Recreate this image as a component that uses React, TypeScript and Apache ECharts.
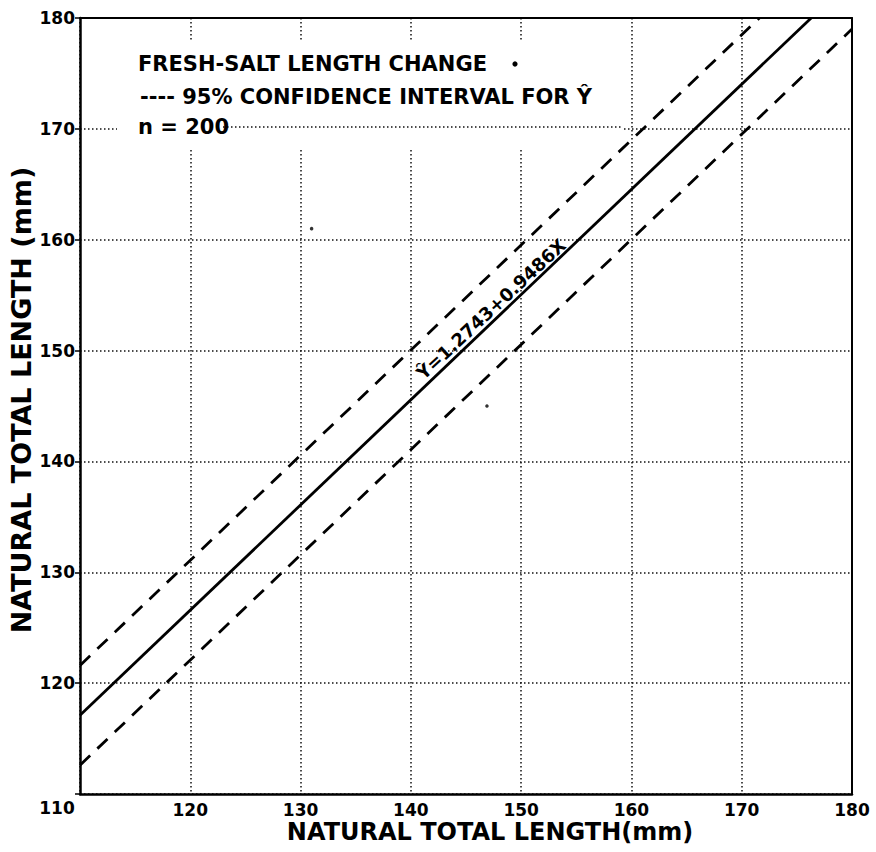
import React, { useEffect, useRef } from "react";
import * as echarts from "echarts";

// Fitted regression line (end points)
const fitLine: number[][] = [
  [110, 117.1],
  [176.3, 180],
];
// 95% confidence limits (dashed)
const upperLimit: number[][] = [
  [110, 121.6],
  [171.6, 180],
];
const lowerLimit: number[][] = [
  [110, 112.6],
  [180, 179.0],
];
// Stray plotted observations
const points: number[][] = [
  [131.0, 161.0],
  [146.9, 145.0],
];
const axisMin = 110;
const axisMax = 180;
const axisStep = 10;

const legendLine1 = "FRESH-SALT LENGTH CHANGE";
const legendLine2 = "---- 95% CONFIDENCE INTERVAL FOR Ŷ";
const legendLine3 = "n = 200";
const equationText = "Ŷ=1.2743+0.9486X";
const axisTitle = "NATURAL TOTAL LENGTH (mm)";
const xAxisTitle = "NATURAL TOTAL LENGTH(mm)";

const FONT = "DejaVu Sans";

export default function App() {
  const ref = useRef<HTMLDivElement>(null);
  useEffect(() => {
    if (!ref.current) return;
    const chart = echarts.init(ref.current, undefined, { renderer: "svg" });
    const gridLine = { color: "#111", width: 1.5, type: [1.5, 2.5] as any };
    const axisCommon = {
      type: "value" as const,
      min: axisMin,
      max: axisMax,
      interval: axisStep,
      axisLine: { show: true, onZero: false, lineStyle: { color: "#000", width: 2.5 } },
      splitLine: { show: true, lineStyle: gridLine },
    };
    chart.setOption({
      animation: false,
      backgroundColor: "#fff",
      grid: { left: 80, right: 24, top: 18, bottom: 58, show: false },
      xAxis: [
        {
          ...axisCommon,
          position: "bottom",
          axisTick: { show: false },
          axisLabel: {
            color: "#000",
            fontFamily: FONT,
            fontWeight: "bold",
            fontSize: 17,
            margin: 7,
            formatter: (v: number) => (v === axisMin ? "" : String(v)),
          },
        },
        {
          type: "value",
          min: axisMin,
          max: axisMax,
          position: "top",
          axisLine: { show: true, lineStyle: { color: "#000", width: 2 } },
          axisTick: { show: false },
          axisLabel: { show: false },
          splitLine: { show: false },
        },
      ],
      yAxis: [
        {
          ...axisCommon,
          position: "left",
          axisTick: { show: true, length: 5, lineStyle: { color: "#000", width: 1.5 } },
          axisLabel: {
            color: "#000",
            fontFamily: FONT,
            fontWeight: "bold",
            fontSize: 17,
            margin: 5,
            formatter: (v: number) => (v === axisMin ? "" : String(v)),
          },
        },
        {
          type: "value",
          min: axisMin,
          max: axisMax,
          position: "right",
          axisLine: { show: true, lineStyle: { color: "#000", width: 2 } },
          axisTick: { show: false },
          axisLabel: { show: false },
          splitLine: { show: false },
        },
      ],
      series: [
        {
          type: "line",
          data: fitLine,
          symbol: "none",
          lineStyle: { color: "#000", width: 2.8 },
          z: 3,
        },
        {
          type: "line",
          data: upperLimit,
          symbol: "none",
          lineStyle: { color: "#000", width: 2.8, type: [14, 10] },
          z: 3,
        },
        {
          type: "line",
          data: lowerLimit,
          symbol: "none",
          lineStyle: { color: "#000", width: 2.8, type: [14, 10] },
          z: 3,
        },
        {
          type: "scatter",
          data: points,
          symbolSize: 3.5,
          itemStyle: { color: "#000" },
          z: 3,
        },
      ],
      graphic: [
        { type: "rect", shape: { x: 117, y: 40, width: 505, height: 110 }, style: { fill: "#fff" }, z: 1 },
        {
          type: "line",
          shape: { x1: 223, y1: 127, x2: 622, y2: 127 },
          style: { stroke: "#111", lineWidth: 1.5, lineDash: [1.5, 2.5] },
          z: 1,
        },
        {
          type: "text",
          x: 138,
          y: 64,
          style: { text: legendLine1, font: `bold 21px "${FONT}"`, fill: "#000", textVerticalAlign: "middle" },
          z: 4,
        },
        { type: "circle", shape: { cx: 515, cy: 64, r: 2.6 }, style: { fill: "#000" }, z: 4 },
        {
          type: "text",
          x: 140,
          y: 97,
          style: { text: legendLine2, font: `bold 21px "${FONT}"`, fill: "#000", textVerticalAlign: "middle" },
          z: 4,
        },
        {
          type: "text",
          x: 138,
          y: 127,
          style: { text: legendLine3, font: `bold 21px "${FONT}"`, fill: "#000", textVerticalAlign: "middle" },
          z: 4,
        },
        {
          type: "text",
          x: 491,
          y: 309,
          rotation: (43 * Math.PI) / 180,
          style: {
            text: equationText,
            font: `bold 18px "${FONT}"`,
            fill: "#000",
            textAlign: "center",
            textVerticalAlign: "middle",
          },
          z: 4,
        },
        {
          type: "text",
          x: 57,
          y: 808,
          style: {
            text: String(axisMin),
            font: `bold 17px "${FONT}"`,
            fill: "#000",
            textAlign: "center",
            textVerticalAlign: "middle",
          },
          z: 4,
        },
        {
          type: "text",
          x: 490,
          y: 832,
          style: {
            text: xAxisTitle,
            font: `bold 24px "${FONT}"`,
            fill: "#000",
            textAlign: "center",
            textVerticalAlign: "middle",
          },
          z: 4,
        },
        {
          type: "text",
          x: 21,
          y: 400,
          rotation: Math.PI / 2,
          style: {
            text: axisTitle,
            font: `bold 27px "${FONT}"`,
            fill: "#000",
            textAlign: "center",
            textVerticalAlign: "middle",
          },
          z: 4,
        },
      ],
    });
    return () => chart.dispose();
  }, []);
  return (
    <div
      ref={ref}
      style={{ position: "fixed", left: 0, top: 0, width: 876, height: 852, background: "#fff" }}
    />
  );
}
